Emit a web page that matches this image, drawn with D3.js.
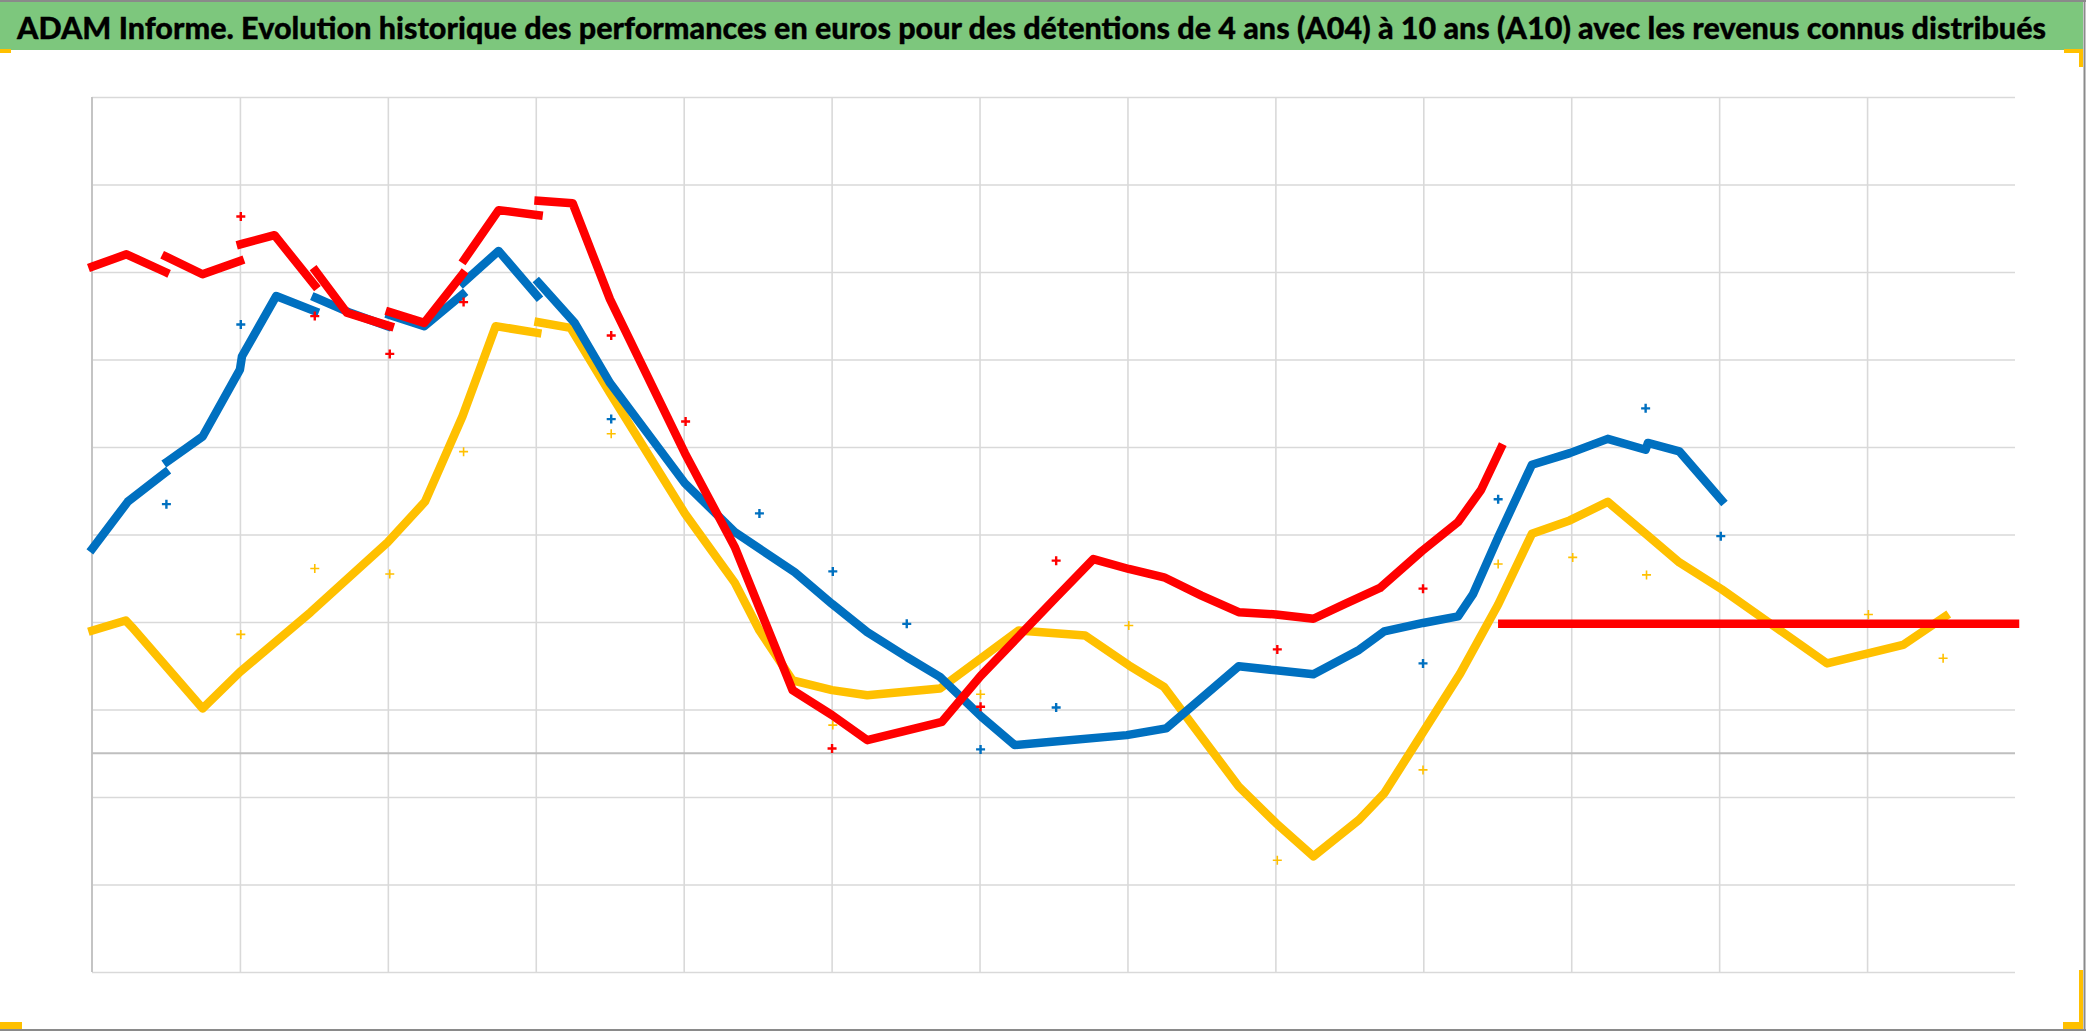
<!DOCTYPE html>
<html>
<head>
<meta charset="utf-8">
<script src="https://cdn.jsdelivr.net/npm/d3@7"></script>
<style>
html,body{margin:0;padding:0;background:#fff;overflow:hidden}
svg{display:block}
</style>
</head>
<body>
<svg id="chart" width="2086" height="1031"></svg>
<script>
// ---------------- DATA ----------------
const titleText = "ADAM Informe. Evolution historique des performances en euros pour des détentions de 4 ans (A04) à 10 ans (A10) avec les revenus connus distribués";

// vertical gridline positions (period index) and horizontal gridline values
const xGridValues = [0,1,2,3,4,5,6,7,8,9,10,11,12];
const yGridValues = [-25,-15,-5,5,15,25,35,45,55,65,75];
const xDomain = [0,13];
const yDomain = [-25,75];
const zeroValue = 0;

// dense daily series, read as [period, value]; null = break in the series
const yellowLine = [[0.003,14.03],[0.228,15.17],[0.27,14.42],[0.748,5.11],[1.0,9.29],[1.478,16.12],[1.998,24.09],[2.251,28.75],[2.504,38.49],[2.729,48.81],[3.01,48.04],null,
  [3.019,49.26],[3.235,48.62],[3.502,41.17],[4.008,27.41],[4.345,19.5],[4.512,14.03],[4.736,8.34],[5.003,7.21],[5.241,6.63],[5.732,7.39],[6.265,14.03],[6.714,13.46],[7.009,10.05],[7.247,7.58],[7.752,-3.8],[8.004,-7.98],[8.257,-11.78],[8.565,-7.61],[8.736,-4.57],[8.993,2.27],[9.249,9.1],[9.506,17.0],[9.734,25.08],[9.99,26.61],[10.247,28.73],[10.503,25.08],[10.731,21.81],[11.017,18.74],[11.729,10.27],[12.243,12.38],[12.528,15.65]];

const blueLine = [[0.003,23.4],[0.242,28.75],[0.495,32.07],null,
  [0.509,33.33],[0.748,36.2],[1.0,43.85],[1.014,45.37],[1.245,52.25],[1.506,50.53],null,
  [1.512,52.06],[1.746,50.34],[1.998,48.81],null,
  [2.013,50.09],[2.246,48.81],[2.504,52.44],null,
  [2.509,53.78],[2.749,57.41],[3.01,52.25],null,
  [3.019,53.78],[3.263,49.19],[3.502,42.31],[4.008,30.85],[4.345,25.29],[4.751,20.68],[5.003,17.07],[5.241,13.85],[5.508,11.0],[5.732,8.73],[6.013,4.17],[6.237,0.94],[6.49,1.32],[6.995,2.07],[7.261,2.84],[7.752,9.94],[8.004,9.48],[8.257,9.02],[8.565,11.81],[8.736,13.93],[8.998,14.89],[9.235,15.65],[9.335,18.15],[9.506,24.69],[9.734,32.97],[9.99,34.3],[10.247,35.93],[10.503,34.69],[10.518,35.46],[10.731,34.5],[11.017,28.92]];

const redLine = [[0.003,55.62],[0.233,57.02],[0.495,55.0],null,
  [0.5,56.76],[0.747,54.74],[1.0,56.26],null,
  [1.006,58.18],[1.234,59.21],[1.506,53.47],null,
  [1.512,55.11],[1.723,50.34],[2.013,48.81],null,
  [2.013,50.42],[2.246,49.19],[2.504,54.74],null,
  [2.518,56.45],[2.749,62.07],[3.019,61.49],null,
  [3.019,63.14],[3.249,62.87],[3.502,51.87],[4.008,34.29],[4.345,23.58],[4.736,7.21],[5.003,4.36],[5.241,1.5],[5.746,3.59],[6.007,8.83],[6.518,17.82],[6.77,22.19],[7.009,21.06],[7.247,20.11],[7.5,18.02],[7.752,16.12],[8.004,15.86],[8.257,15.37],[8.471,17.06],[8.707,18.89],[8.991,23.11],[9.235,26.43],[9.39,30.09],[9.525,34.89],null,
  [9.534,14.8],[13.0,14.8]];

// isolated points (distributed revenues)
const yellowMarks = [[1.006,13.58],[1.506,21.11],[2.013,20.49],[2.512,34.47],[3.51,36.51],[5.008,3.22],[6.007,6.75],[7.009,14.6],[8.013,-12.23],[8.998,-1.9],[9.506,21.63],[10.01,22.38],[10.509,20.38],[12.009,15.85],[12.514,10.85]];
const blueMarks = [[0.503,28.47],[1.006,49.0],[3.51,38.19],[4.512,27.41],[5.008,20.78],[5.508,14.79],[6.007,0.44],[6.518,5.23],[8.998,10.27],[9.506,29.03],[10.503,39.42],[11.011,24.81]];
const redMarks = [[1.006,61.34],[1.506,49.96],[2.013,45.64],[2.512,51.56],[3.51,47.74],[4.013,37.91],[5.003,0.55],[6.007,5.31],[6.518,22.01],[8.013,11.87],[8.998,18.81]];

// ---------------- DRAW ----------------
const W = 2086, H = 1031;
const plot = {left: 92, top: 97, right: 2015, bottom: 972};
const svg = d3.select("#chart");

svg.append("rect").attr("width", W).attr("height", H).attr("fill", "#ffffff");

// title bar
svg.append("rect").attr("x", 0).attr("y", 0).attr("width", 2083).attr("height", 50).attr("fill", "#7dc77d");
svg.append("text")
  .attr("x", 17).attr("y", 38.5)
  .attr("font-family", "Lato, 'Open Sans', 'Liberation Sans', sans-serif")
  .attr("font-weight", 900)
  .attr("font-size", 29.5)
  .attr("fill", "#000")
  .attr("stroke", "#000")
  .attr("stroke-width", 0.3)
  .attr("textLength", 2029)
  .attr("lengthAdjust", "spacingAndGlyphs")
  .text(titleText);

// outer frame lines
svg.append("line").attr("x1",0).attr("x2",2086).attr("y1",1).attr("y2",1).attr("stroke","#8a8a8a").attr("stroke-width",2);
svg.append("line").attr("x1",2084.5).attr("x2",2084.5).attr("y1",0).attr("y2",1031).attr("stroke","#8a8a8a").attr("stroke-width",2);
svg.append("line").attr("x1",0).attr("x2",2086).attr("y1",1030).attr("y2",1030).attr("stroke","#8a8a8a").attr("stroke-width",2);

// selection handles (gold)
const gold = "#ffc000";
svg.append("rect").attr("x",0).attr("y",49).attr("width",11).attr("height",4).attr("fill",gold);
svg.append("rect").attr("x",2064).attr("y",49).attr("width",19).attr("height",4).attr("fill",gold);
svg.append("rect").attr("x",2079).attr("y",49).attr("width",4).attr("height",18).attr("fill",gold);
svg.append("rect").attr("x",0).attr("y",1022).attr("width",22).attr("height",7).attr("fill",gold);
svg.append("rect").attr("x",2063).attr("y",1022).attr("width",20).attr("height",7).attr("fill",gold);
svg.append("rect").attr("x",2079).attr("y",970).attr("width",4).attr("height",59).attr("fill",gold);

const x = d3.scaleLinear().domain(xDomain).range([plot.left, plot.right]);
const y = d3.scaleLinear().domain(yDomain).range([plot.bottom, plot.top]);

// horizontal gridlines
const gy = svg.append("g").attr("transform", `translate(${plot.left},0)`)
  .call(d3.axisLeft(y).tickValues(yGridValues).tickSize(-(plot.right - plot.left)).tickFormat(""));
gy.select(".domain").remove();
gy.selectAll(".tick line").attr("stroke", "#d9d9d9").attr("stroke-width", 1.6);

// vertical gridlines
const gx = svg.append("g").attr("transform", `translate(0,${plot.bottom})`)
  .call(d3.axisBottom(x).tickValues(xGridValues.filter(v => v > 0)).tickSize(-(plot.bottom - plot.top)).tickFormat(""));
gx.select(".domain").remove();
gx.selectAll(".tick line").attr("stroke", "#d9d9d9").attr("stroke-width", 1.6);

// vertical axis line
svg.append("line").attr("x1", x(xGridValues[0])).attr("x2", x(xGridValues[0]))
  .attr("y1", plot.top).attr("y2", plot.bottom).attr("stroke", "#c4c4c4").attr("stroke-width", 2);

// zero line (horizontal axis)
svg.append("line").attr("x1", plot.left).attr("x2", plot.right)
  .attr("y1", y(zeroValue)).attr("y2", y(zeroValue)).attr("stroke", "#bfbfbf").attr("stroke-width", 2);

const line = d3.line().defined(d => d !== null).x(d => x(d[0])).y(d => y(d[1]));

const series = [
  {data: yellowLine, marks: yellowMarks, color: "#ffc000", mw: 1.6},
  {data: blueLine, marks: blueMarks, color: "#0070c0", mw: 2.4},
  {data: redLine, marks: redMarks, color: "#ff0000", mw: 2.4}
];

const crossPath = "M-4.5,0H4.5M0,-4.5V4.5";

series.forEach(s => {
  svg.append("path")
    .attr("d", line(s.data))
    .attr("fill", "none")
    .attr("stroke", s.color)
    .attr("stroke-width", 8.5)
    .attr("stroke-linejoin", "round")
    .attr("stroke-linecap", "square");
  svg.append("g").selectAll("path").data(s.marks).join("path")
    .attr("transform", d => `translate(${x(d[0])},${y(d[1])})`)
    .attr("d", crossPath)
    .attr("stroke", s.color)
    .attr("stroke-width", s.mw)
    .attr("fill", "none");
});
</script>
</body>
</html>
